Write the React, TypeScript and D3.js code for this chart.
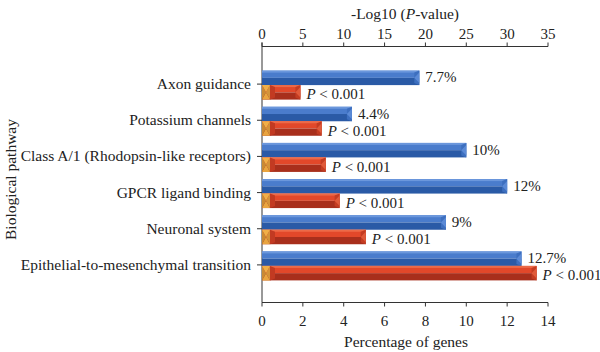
import React from "react";
import * as d3 from "d3";

const categories = [
  "Axon guidance",
  "Potassium channels",
  "Class A/1 (Rhodopsin-like receptors)",
  "GPCR ligand binding",
  "Neuronal system",
  "Epithelial-to-mesenchymal transition",
];
const percentGenes = [7.7, 4.4, 10, 12, 9, 12.7];
const percentLabels = ["7.7%", "4.4%", "10%", "12%", "9%", "12.7%"];
const logP = [4.7, 7.3, 7.8, 9.5, 12.7, 33.6];
const pLabels = ["< 0.001", "< 0.001", "< 0.001", "< 0.001", "< 0.001", "< 0.001"];
const bottomTicks = [0, 2, 4, 6, 8, 10, 12, 14];
const topTicks = [0, 5, 10, 15, 20, 25, 30, 35];

const W = 600;
const H = 352;
const left = 262;
const right = 548;
const top = 46.5;
const bottom = 302.5;
const FONT = "'Liberation Serif', 'DejaVu Serif', serif";
const LBL = 15.5;
const NUM = 15;

export default function App() {
  const xPct = d3.scaleLinear().domain([0, 14]).range([left, right]);
  const xLog = d3.scaleLinear().domain([0, 35]).range([left, right]);
  const y = d3
    .scaleBand<string>()
    .domain(categories)
    .range([top, bottom])
    .paddingOuter(0.54)
    .paddingInner(0);
  const barH = 14.5;
  const capW = 8;

  return (
    <svg
      width={W}
      height={H}
      style={{ position: "absolute", left: 0, top: 0, background: "#fff" }}
      fontFamily={FONT}
    >
      {/* top axis */}
      <text x={405} y={19} fontSize={LBL} textAnchor="middle" fill="#222">
        -Log10 (<tspan fontStyle="italic">P</tspan>-value)
      </text>
      <line x1={left} x2={right} y1={top} y2={top} stroke="#333" strokeWidth={1} />
      {topTicks.map((t) => (
        <g key={"tt" + t}>
          <line x1={xLog(t)} x2={xLog(t)} y1={top - 4} y2={top} stroke="#333" />
          <text x={xLog(t)} y={38.5} fontSize={NUM} textAnchor="middle" fill="#222">
            {t}
          </text>
        </g>
      ))}
      {/* bottom axis */}
      <line x1={left} x2={right} y1={bottom} y2={bottom} stroke="#333" strokeWidth={1} />
      {bottomTicks.map((t) => (
        <g key={"bt" + t}>
          <line x1={xPct(t)} x2={xPct(t)} y1={bottom} y2={bottom + 4} stroke="#333" />
          <text x={xPct(t)} y={325.5} fontSize={NUM} textAnchor="middle" fill="#222">
            {t}
          </text>
        </g>
      ))}
      <text x={406} y={346.5} fontSize={LBL} textAnchor="middle" fill="#222">
        Percentage of genes
      </text>
      {/* left axis */}
      <line x1={left} x2={left} y1={top - 4} y2={bottom} stroke="#333" strokeWidth={1} />
      <text
        transform={`translate(16,${(top + bottom) / 2 + 5}) rotate(-90)`}
        fontSize={LBL}
        textAnchor="middle"
        fill="#222"
      >
        Biological pathway
      </text>

      {categories.map((c, i) => {
        const yc = (y(c) as number) + y.bandwidth() / 2 + 1;
        const bx1 = xPct(percentGenes[i]);
        const rx1 = xLog(logP[i]);
        const by0 = yc - barH;
        const ry0 = yc;
        const bev = 5;
        return (
          <g key={c}>
            <line x1={left - 5} x2={left} y1={yc - 1} y2={yc - 1} stroke="#333" />
            <text x={251} y={yc + 4} fontSize={LBL} textAnchor="end" fill="#222">
              {c}
            </text>
            {/* blue bar */}
            <rect x={left} y={by0} width={bx1 - left} height={barH / 2} fill="#4a7ccc" />
            <rect x={left} y={by0 + barH / 2} width={bx1 - left} height={barH / 2} fill="#2a5aa6" />
            <rect x={left} y={by0} width={bx1 - left} height={2} fill="#6b97dc" />
            <polygon
              points={`${bx1 - bev},${by0 + 2} ${bx1},${by0} ${bx1},${by0 + barH} ${bx1 - bev},${by0 + barH - 2}`}
              fill="#3d6fbf"
            />
            <polygon
              points={`${bx1 - bev},${by0 + barH / 2} ${bx1},${by0 + 2} ${bx1},${by0 + barH - 2}`}
              fill="#5b8ad6"
            />
            <text x={bx1 + 6} y={by0 + barH / 2 + 4.5} fontSize={NUM} fill="#222">
              {percentLabels[i]}
            </text>
            {/* red bar */}
            <rect x={left} y={ry0} width={rx1 - left} height={barH / 2} fill="#e2482a" />
            <rect x={left} y={ry0 + barH / 2} width={rx1 - left} height={barH / 2} fill="#a82f1c" />
            <rect x={left} y={ry0} width={rx1 - left} height={2} fill="#ec6a48" />
            <polygon
              points={`${left + capW},${ry0} ${left + capW + bev},${ry0 + 2} ${left + capW + bev},${ry0 + barH - 2} ${left + capW},${ry0 + barH}`}
              fill="#c23a22"
            />
            <polygon
              points={`${rx1 - bev},${ry0 + 2} ${rx1},${ry0} ${rx1},${ry0 + barH} ${rx1 - bev},${ry0 + barH - 2}`}
              fill="#c43c22"
            />
            <polygon
              points={`${rx1 - bev},${ry0 + barH / 2} ${rx1},${ry0 + 2} ${rx1},${ry0 + barH - 2}`}
              fill="#e05a3a"
            />
            {/* gold cap */}
            <polygon
              points={`${left},${ry0} ${left + capW},${ry0} ${left + capW / 2},${ry0 + barH / 2}`}
              fill="#f0b048"
            />
            <polygon
              points={`${left},${ry0 + barH} ${left + capW},${ry0 + barH} ${left + capW / 2},${ry0 + barH / 2}`}
              fill="#e9a540"
            />
            <polygon
              points={`${left},${ry0} ${left},${ry0 + barH} ${left + capW / 2},${ry0 + barH / 2}`}
              fill="#c98a34"
            />
            <polygon
              points={`${left + capW},${ry0} ${left + capW},${ry0 + barH} ${left + capW / 2},${ry0 + barH / 2}`}
              fill="#d4943a"
            />
            <text x={rx1 + 6} y={ry0 + barH / 2 + 7} fontSize={NUM} fill="#222">
              <tspan fontStyle="italic">P</tspan> {pLabels[i]}
            </text>
          </g>
        );
      })}
    </svg>
  );
}
